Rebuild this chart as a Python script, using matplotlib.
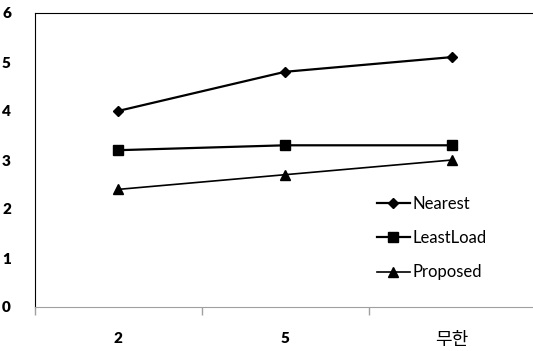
import numpy as np
import matplotlib
matplotlib.use("Agg")
import matplotlib.pyplot as plt

# 데이터: 범주별 평균값
categories = ["2", "5", "무한"]
nearest = [4.0, 4.8, 5.1]
least_load = [3.2, 3.3, 3.3]
proposed = [2.4, 2.7, 3.0]

plt.rcParams["font.family"] = ["Lato", "Noto Sans CJK KR", "DejaVu Sans"]

W, H = 533, 351
fig = plt.figure(figsize=(W / 100, H / 100), dpi=100)
ax = fig.add_axes([34.5 / W, 44 / H, 501 / W, 294 / H])

x = np.arange(len(categories))
ax.plot(x, nearest, color="black", lw=1.6, marker="D", ms=5.5, label="Nearest")
ax.plot(x, least_load, color="black", lw=1.6, marker="s", ms=7, label="LeastLoad")
ax.plot(x, proposed, color="black", lw=1.2, marker="^", ms=7, label="Proposed")

ax.set_xlim(-0.5, 2.5)
ax.set_ylim(0, 6)

# 축 테두리
ax.spines["top"].set_color("black")
ax.spines["left"].set_color("black")
ax.spines["right"].set_visible(False)
ax.spines["bottom"].set_color("#a0a0a0")

ax.set_yticks(range(0, 7))
ax.tick_params(axis="y", length=0, pad=17, labelsize=11)
for lab in ax.get_yticklabels():
    lab.set_fontweight("heavy")

ax.set_xticks(x)
ax.set_xticklabels(categories)
ax.set_xticks([-0.5, 0.5, 1.5, 2.5], minor=True)
ax.tick_params(axis="x", which="major", length=0, pad=18, labelsize=11)
ax.tick_params(axis="x", which="minor", length=6, color="#a0a0a0", width=1)
for lab in ax.get_xticklabels():
    if lab.get_text() == "무한":
        lab.set_fontsize(13)
        lab.set_fontweight("normal")
    else:
        lab.set_fontweight("heavy")

ax.legend(loc="upper left", bbox_to_anchor=(370 / W, 1 - 189 / H),
          bbox_transform=fig.transFigure, frameon=False, fontsize=12,
          handlelength=2.0, handletextpad=0.15, labelspacing=1.1,
          borderaxespad=0)

fig.savefig("out.png", dpi=100)
